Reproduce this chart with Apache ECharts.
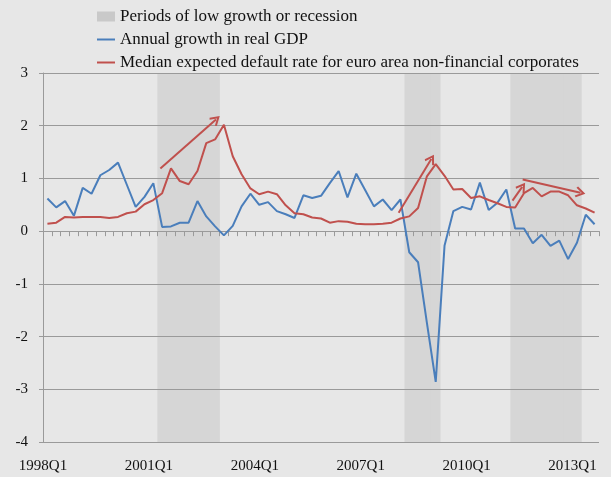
<!DOCTYPE html>
<html>
<head>
<meta charset="utf-8">
<script src="https://cdn.jsdelivr.net/npm/echarts@6/dist/echarts.min.js"></script>
<style>
  html, body { margin: 0; padding: 0; background: #e7e7e7; }
  #chart { width: 611px; height: 477px; }
</style>
</head>
<body>
<div id="chart"></div>
<script>
// quarters 1998Q1 .. 2013Q3
const quarters = [];
for (let y = 1998; y <= 2013; y++) {
  for (let q = 1; q <= 4; q++) {
    if (y === 2013 && q > 3) break;
    quarters.push(y + "Q" + q);
  }
}

const tickLabels = ["1998Q1", "2001Q1", "2004Q1", "2007Q1", "2010Q1", "2013Q1"];

const gdpGrowth = [
  0.62, 0.45, 0.57, 0.29, 0.82, 0.71, 1.06, 1.16, 1.30, 0.88, 0.46, 0.65, 0.91,
  0.08, 0.09, 0.16, 0.16, 0.57, 0.28, 0.09, -0.08, 0.10, 0.47, 0.71, 0.50, 0.55,
  0.38, 0.32, 0.25, 0.68, 0.63, 0.67, 0.91, 1.14, 0.64, 1.09, 0.78, 0.47, 0.60,
  0.40, 0.60, -0.40, -0.59, -1.74, -2.86, -0.27, 0.38, 0.46, 0.41, 0.92, 0.40,
  0.54, 0.79, 0.05, 0.05, -0.23, -0.07, -0.28, -0.18, -0.53, -0.22, 0.31, 0.13
];

const defaultRate = [
  0.14, 0.16, 0.27, 0.26, 0.27, 0.27, 0.27, 0.25, 0.27, 0.34, 0.37, 0.51, 0.59,
  0.72, 1.19, 0.95, 0.89, 1.14, 1.67, 1.74, 2.02, 1.42, 1.08, 0.81, 0.70, 0.75,
  0.70, 0.49, 0.34, 0.32, 0.26, 0.24, 0.16, 0.19, 0.18, 0.14, 0.13, 0.13, 0.14,
  0.16, 0.24, 0.28, 0.44, 1.04, 1.27, 1.05, 0.79, 0.80, 0.63, 0.66, 0.59, 0.53,
  0.46, 0.45, 0.72, 0.82, 0.66, 0.75, 0.75, 0.68, 0.49, 0.43, 0.35
];

// low growth / recession periods [first quarter, last quarter]
const lowGrowthPeriods = [
  ["2001Q2", "2002Q4"],
  ["2008Q2", "2009Q1"],
  ["2011Q2", "2013Q1"]
];

// red annotation arrows [x1, y1, x2, y2], x in quarter positions from 1998Q1
const trendArrows = [
  [13.3, 1.19, 19.6, 2.12],
  [40.3, 0.35, 44.0, 1.37],
  [53.2, 0.58, 54.3, 0.84],
  [54.35, 0.98, 60.9, 0.73]
];

const SHADE_NAME = "Periods of low growth or recession";
const GDP_NAME = "Annual growth in real GDP";
const RATE_NAME = "Median expected default rate for euro area non-financial corporates";
const BLUE = "#4a7ebb";
const RED = "#c0504d";
const GREY_LINE = "#9a9a9a";
const SHADE = "#d6d6d6";
const FONT = '"Liberation Serif", "Times New Roman", serif';

function inPeriod(index) {
  return lowGrowthPeriods.some(([a, b]) => index >= quarters.indexOf(a) && index <= quarters.indexOf(b));
}

const shadeTop = quarters.map((q, i) => (inPeriod(i) ? 3 : "-"));
const shadeBottom = quarters.map((q, i) => (inPeriod(i) ? -4 : "-"));

const chevron = "path://M5,0 L10,8 L8.6,9.2 L5,3.4 L1.4,9.2 L0,8 Z";
const lineIcon = "path://M0,0 L18,0 L18,2 L0,2 Z";

const chart = echarts.init(document.getElementById("chart"));

chart.setOption({
  animation: false,
  backgroundColor: "#e7e7e7",
  legend: {
    orient: "vertical",
    left: 92,
    top: 3,
    itemWidth: 18,
    itemHeight: 10,
    itemGap: 6,
    textStyle: { fontFamily: FONT, fontSize: 17, color: "#111" },
    data: [
      { name: SHADE_NAME, icon: "rect", itemStyle: { color: "#c9c9c9" } },
      { name: GDP_NAME, icon: lineIcon },
      { name: RATE_NAME, icon: lineIcon }
    ]
  },
  grid: { left: 43, right: 12, top: 73, bottom: 35, containLabel: false },
  xAxis: [
    {
      type: "category",
      data: quarters,
      position: "bottom",
      boundaryGap: true,
      axisLine: { onZero: true, lineStyle: { color: GREY_LINE, width: 1 } },
      axisTick: { show: true, interval: 0, length: 5, lineStyle: { color: GREY_LINE } },
      axisLabel: { show: false },
      splitLine: { show: false }
    },
    {
      type: "value",
      min: 0,
      max: quarters.length,
      interval: 12,
      position: "bottom",
      axisLine: { show: false, onZero: false },
      axisTick: { show: false },
      splitLine: { show: false },
      axisLabel: {
        margin: 17,
        fontFamily: FONT,
        fontSize: 15,
        color: "#111",
        formatter(value) {
          const label = quarters[value];
          return tickLabels.includes(label) ? label : "";
        }
      }
    }
  ],
  yAxis: {
    type: "value",
    min: -4,
    max: 3,
    interval: 1,
    axisLine: { show: true, onZero: false, lineStyle: { color: GREY_LINE } },
    axisTick: { show: true, length: 4, lineStyle: { color: GREY_LINE } },
    splitLine: { lineStyle: { color: GREY_LINE, width: 1 } },
    axisLabel: { margin: 15, fontFamily: FONT, fontSize: 15, color: "#111" }
  },
  series: [
    {
      name: SHADE_NAME,
      type: "bar",
      data: shadeTop,
      barWidth: 9.6,
      barGap: "-100%",
      z: -1,
      itemStyle: { color: SHADE }
    },
    {
      name: SHADE_NAME,
      type: "bar",
      data: shadeBottom,
      barWidth: 9.6,
      barGap: "-100%",
      z: -1,
      itemStyle: { color: SHADE }
    },
    {
      name: GDP_NAME,
      type: "line",
      data: gdpGrowth,
      symbol: "none",
      lineStyle: { color: BLUE, width: 2 },
      itemStyle: { color: BLUE }
    },
    {
      name: RATE_NAME,
      type: "line",
      data: defaultRate,
      symbol: "none",
      lineStyle: { color: RED, width: 2 },
      itemStyle: { color: RED }
    },
    {
      name: "arrows",
      type: "line",
      xAxisIndex: 1,
      data: [],
      symbol: "none",
      markLine: {
        silent: true,
        symbol: ["none", chevron],
        symbolSize: [11, 10],
        label: { show: false },
        lineStyle: { color: RED, width: 2, type: "solid" },
        data: trendArrows.map(([x1, y1, x2, y2]) => [{ coord: [x1, y1] }, { coord: [x2, y2] }])
      }
    }
  ]
});
</script>
</body>
</html>
